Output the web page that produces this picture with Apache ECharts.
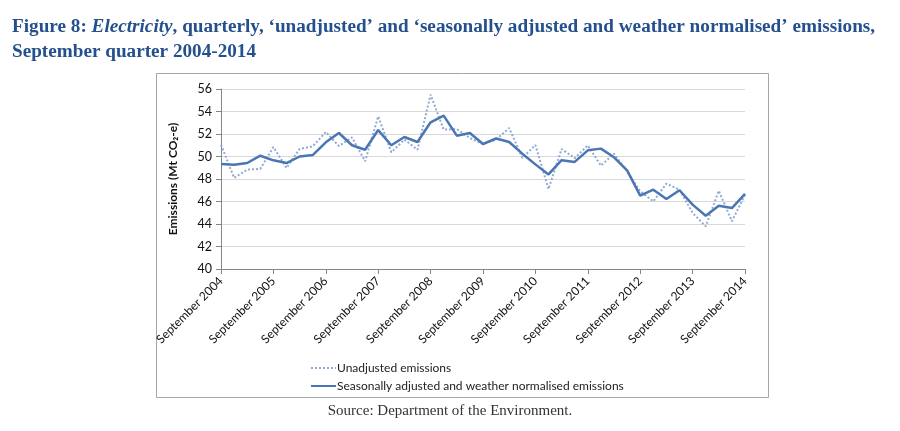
<!DOCTYPE html>
<html>
<head>
<meta charset="utf-8">
<script src="https://cdn.jsdelivr.net/npm/echarts@6/dist/echarts.min.js"></script>
<style>
  html, body { margin: 0; padding: 0; background: #fff; }
  #c { width: 900px; height: 431px; }
</style>
</head>
<body>
<div id="c"></div>
<script>
const quarters = ['September', 'December', 'March', 'June'];
const categories = [];
for (let i = 0; i < 41; i++) {
  const q = quarters[i % 4];
  const year = (i % 4 === 0 || i % 4 === 1) ? 2004 + Math.floor(i / 4) : 2005 + Math.floor(i / 4);
  categories.push(q + ' ' + year);
}
const unadjusted = [
  51.05, 48.1, 48.83, 48.9, 50.84, 48.98, 50.67, 50.9, 52.18, 50.93,
  51.7, 49.57, 53.57, 50.37, 51.5, 50.6, 55.5, 52.39, 52.44, 51.64,
  51.11, 51.5, 52.53, 49.87, 51.02, 47.1, 50.67, 49.85, 50.99, 49.19,
  50.25, 48.68, 46.9, 46.01, 47.59, 47.05, 44.98, 43.79, 46.96, 44.24,
  46.6
];
const adjusted = [
  49.33, 49.27, 49.42, 50.07, 49.66, 49.42, 50.0, 50.13, 51.26, 52.09,
  51.0, 50.6, 52.35, 51.0, 51.73, 51.29, 53.04, 53.63, 51.85, 52.09,
  51.11, 51.6, 51.29, 50.25, 49.3, 48.41, 49.67, 49.52, 50.55, 50.7,
  49.93, 48.77, 46.52, 47.05, 46.22, 47.0, 45.72, 44.74, 45.63, 45.42,
  46.67
];
const seriesNames = ['Unadjusted emissions', 'Seasonally adjusted and weather normalised emissions'];

const chart = echarts.init(document.getElementById('c'));
chart.setOption({
  animation: false,
  backgroundColor: '#ffffff',
  graphic: [
    { type: 'rect', shape: { x: 156.5, y: 73.5, width: 612, height: 324 },
      style: { fill: 'none', stroke: '#a6a6a6', lineWidth: 1 }, z: -1 },
    { type: 'text', left: 12, top: 15,
      style: { rich: {
        b: { fontFamily: 'Liberation Serif', fontWeight: 'bold', fontSize: 19.2, fill: '#25508e' },
        i: { fontFamily: 'Liberation Serif', fontWeight: 'bold', fontStyle: 'italic', fontSize: 19.2, fill: '#25508e' }
      },
      text: '{b|Figure 8: }{i|Electricity}{b|, quarterly, \u2018unadjusted\u2019 and \u2018seasonally adjusted and weather normalised\u2019 emissions,}\n{b|September quarter 2004-2014}',
      lineHeight: 25 } },
    { type: 'text', left: 'center', top: 404,
      style: { text: 'Source: Department of the Environment.', fontFamily: 'Liberation Serif', fontSize: 15, fill: '#333' } }
  ],
  legend: {
    orient: 'vertical', left: 305, top: 357, itemGap: 6,
    itemWidth: 25, itemHeight: 11,
    itemStyle: { opacity: 0 },
    textStyle: { fontFamily: 'Lato', fontSize: 12, color: '#222', padding: [0, 0, 0, -4] },
    data: [ { name: seriesNames[0] }, { name: seriesNames[1] } ]
  },
  grid: { left: 221, right: 155, top: 89, bottom: 162 },
  xAxis: {
    type: 'category', data: categories, boundaryGap: false,
    axisLine: { lineStyle: { color: '#868686' } },
    axisTick: { interval: 3, length: 5, lineStyle: { color: '#868686' } },
    axisLabel: { interval: 3, rotate: 45, fontFamily: 'Lato', fontSize: 12, color: '#111', margin: 10 },
    splitLine: { show: false }
  },
  yAxis: {
    type: 'value', min: 40, max: 56, interval: 2,
    name: 'Emissions (Mt CO\u2082-e)', nameLocation: 'middle', nameGap: 42,
    nameTextStyle: { fontFamily: 'Lato', fontWeight: 'bold', fontSize: 12, color: '#111' },
    axisLine: { show: true, lineStyle: { color: '#868686' } },
    axisTick: { show: true, length: 5, lineStyle: { color: '#868686' } },
    axisLabel: { fontFamily: 'Lato', fontSize: 12.5, color: '#111', margin: 9 },
    splitLine: { lineStyle: { color: '#d9d9d9' } }
  },
  series: [
    { name: seriesNames[0], type: 'line', data: unadjusted, symbol: 'none',
      lineStyle: { color: '#8eaad3', width: 2, type: [2, 2] }, itemStyle: { color: '#8eaad3' }, z: 2 },
    { name: seriesNames[1], type: 'line', data: adjusted, symbol: 'none',
      lineStyle: { color: '#4a76b3', width: 2.5 }, itemStyle: { color: '#4a76b3' }, z: 3 }
  ]
});
</script>
</body>
</html>
